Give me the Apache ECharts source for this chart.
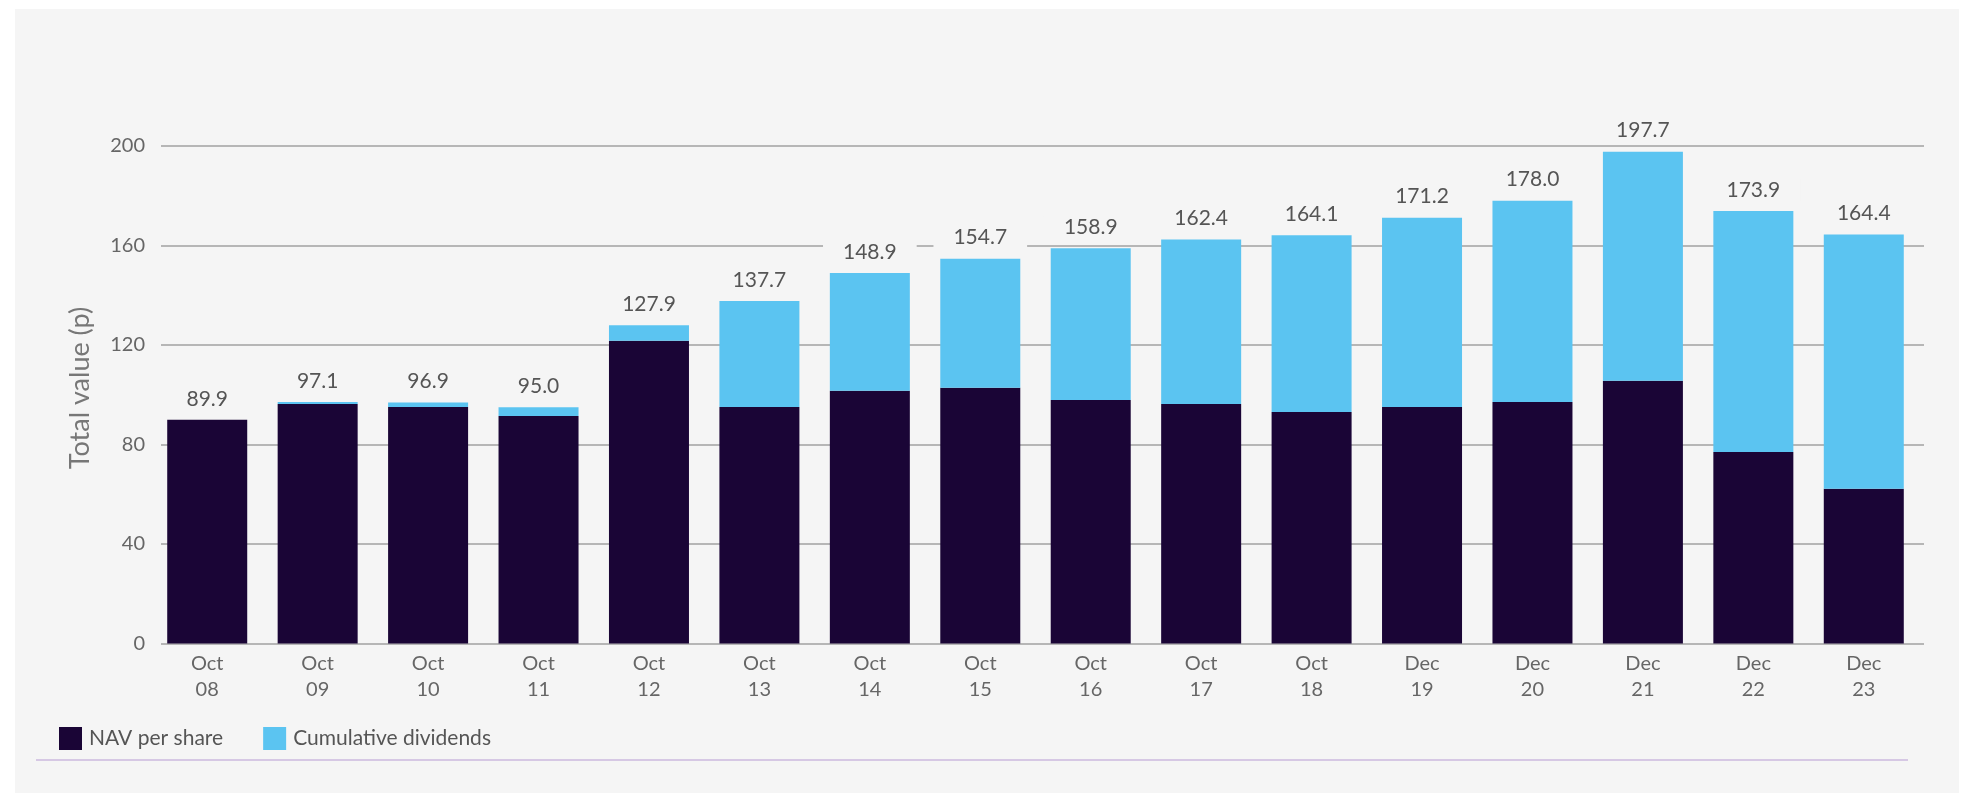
<!DOCTYPE html>
<html>
<head>
<meta charset="utf-8">
<script src="https://cdn.jsdelivr.net/npm/echarts@6/dist/echarts.min.js"></script>
<style>
html,body{margin:0;padding:0;background:#ffffff;}
#panel{position:absolute;left:15px;top:9px;width:1944px;height:784px;background:#f5f5f5;}
#chart{position:absolute;left:0;top:0;width:1966px;height:793px;}
</style>
</head>
<body>
<div id="panel"></div>
<div id="chart"></div>
<script>
var categories = ['Oct\n08','Oct\n09','Oct\n10','Oct\n11','Oct\n12','Oct\n13','Oct\n14','Oct\n15','Oct\n16','Oct\n17','Oct\n18','Dec\n19','Dec\n20','Dec\n21','Dec\n22','Dec\n23'];
var navPerShare = [89.9, 96.3, 95.1, 91.5, 121.7, 95.1, 101.6, 102.8, 97.9, 96.3, 93.1, 95.1, 97.1, 105.6, 77.0, 62.2];
var totalValue = [89.9, 97.1, 96.9, 95.0, 127.9, 137.7, 148.9, 154.7, 158.9, 162.4, 164.1, 171.2, 178.0, 197.7, 173.9, 164.4];
var yTicks = {min: 0, max: 200, interval: 40};
var yTitle = 'Total value (p)';

var dividends = totalValue.map(function (t, i) { return Math.round((t - navPerShare[i]) * 10) / 10; });

var FONT = 'Lato, "Open Sans", sans-serif';
var chart = echarts.init(document.getElementById('chart'), null, {renderer: 'canvas'});
chart.setOption({
  backgroundColor: 'transparent',
  animation: false,
  textStyle: {fontFamily: FONT},
  grid: [
    {left: 152, right: 47, top: 146, bottom: 149.5},
    {left: 161, right: 42, top: 146, bottom: 149.5}
  ],
  legend: {
    left: 59, top: 727, padding: 0,
    itemWidth: 23, itemHeight: 23, itemGap: 40,
    icon: 'rect',
    textStyle: {fontFamily: FONT, fontSize: 21, color: '#555555', padding: [0, 0, 0, 2]},
    data: ['NAV per share', 'Cumulative dividends']
  },
  xAxis: [
    {
      type: 'category', gridIndex: 0, data: categories, boundaryGap: true,
      axisLine: {show: false}, axisTick: {show: false},
      axisLabel: {fontFamily: FONT, fontSize: 20, lineHeight: 26, color: '#666666', margin: 7, interval: 0}
    },
    {type: 'category', gridIndex: 1, data: [], show: false}
  ],
  yAxis: [
    {type: 'value', gridIndex: 0, min: yTicks.min, max: yTicks.max, interval: yTicks.interval, show: false},
    {
      type: 'value', gridIndex: 1, min: yTicks.min, max: yTicks.max, interval: yTicks.interval,
      axisLine: {show: false}, axisTick: {show: false},
      axisLabel: {fontFamily: FONT, fontSize: 20, color: '#666666', margin: 16},
      splitLine: {show: true, lineStyle: {color: '#a0a0a0', width: 1.5}}
    }
  ],
  graphic: [
    {type: 'rect', shape: {x: 36, y: 759, width: 1872, height: 2}, style: {fill: '#d6c8e4'}, silent: true},
    {
      type: 'text', x: 80, y: 388, rotation: Math.PI / 2, silent: true,
      style: {
        text: yTitle, fontSize: 27, fontFamily: FONT, fill: '#777777',
        align: 'center', verticalAlign: 'middle', textAlign: 'center', textVerticalAlign: 'middle'
      }
    }
  ],
  series: [
    {
      name: 'NAV per share', type: 'bar', stack: 'total', xAxisIndex: 0, yAxisIndex: 0,
      barWidth: 80, data: navPerShare,
      itemStyle: {color: '#1a0536'}
    },
    {
      name: 'Cumulative dividends', type: 'bar', stack: 'total', xAxisIndex: 0, yAxisIndex: 0,
      barWidth: 80, data: dividends,
      itemStyle: {color: '#5bc4f1'},
      label: {
        show: true, position: 'top', distance: 10,
        fontFamily: FONT, fontSize: 21, lineHeight: 22, color: '#555555',
        backgroundColor: '#f5f5f5', padding: [0, 20, 0, 20],
        formatter: function (p) { return totalValue[p.dataIndex].toFixed(1); }
      }
    }
  ]
});
</script>
</body>
</html>
